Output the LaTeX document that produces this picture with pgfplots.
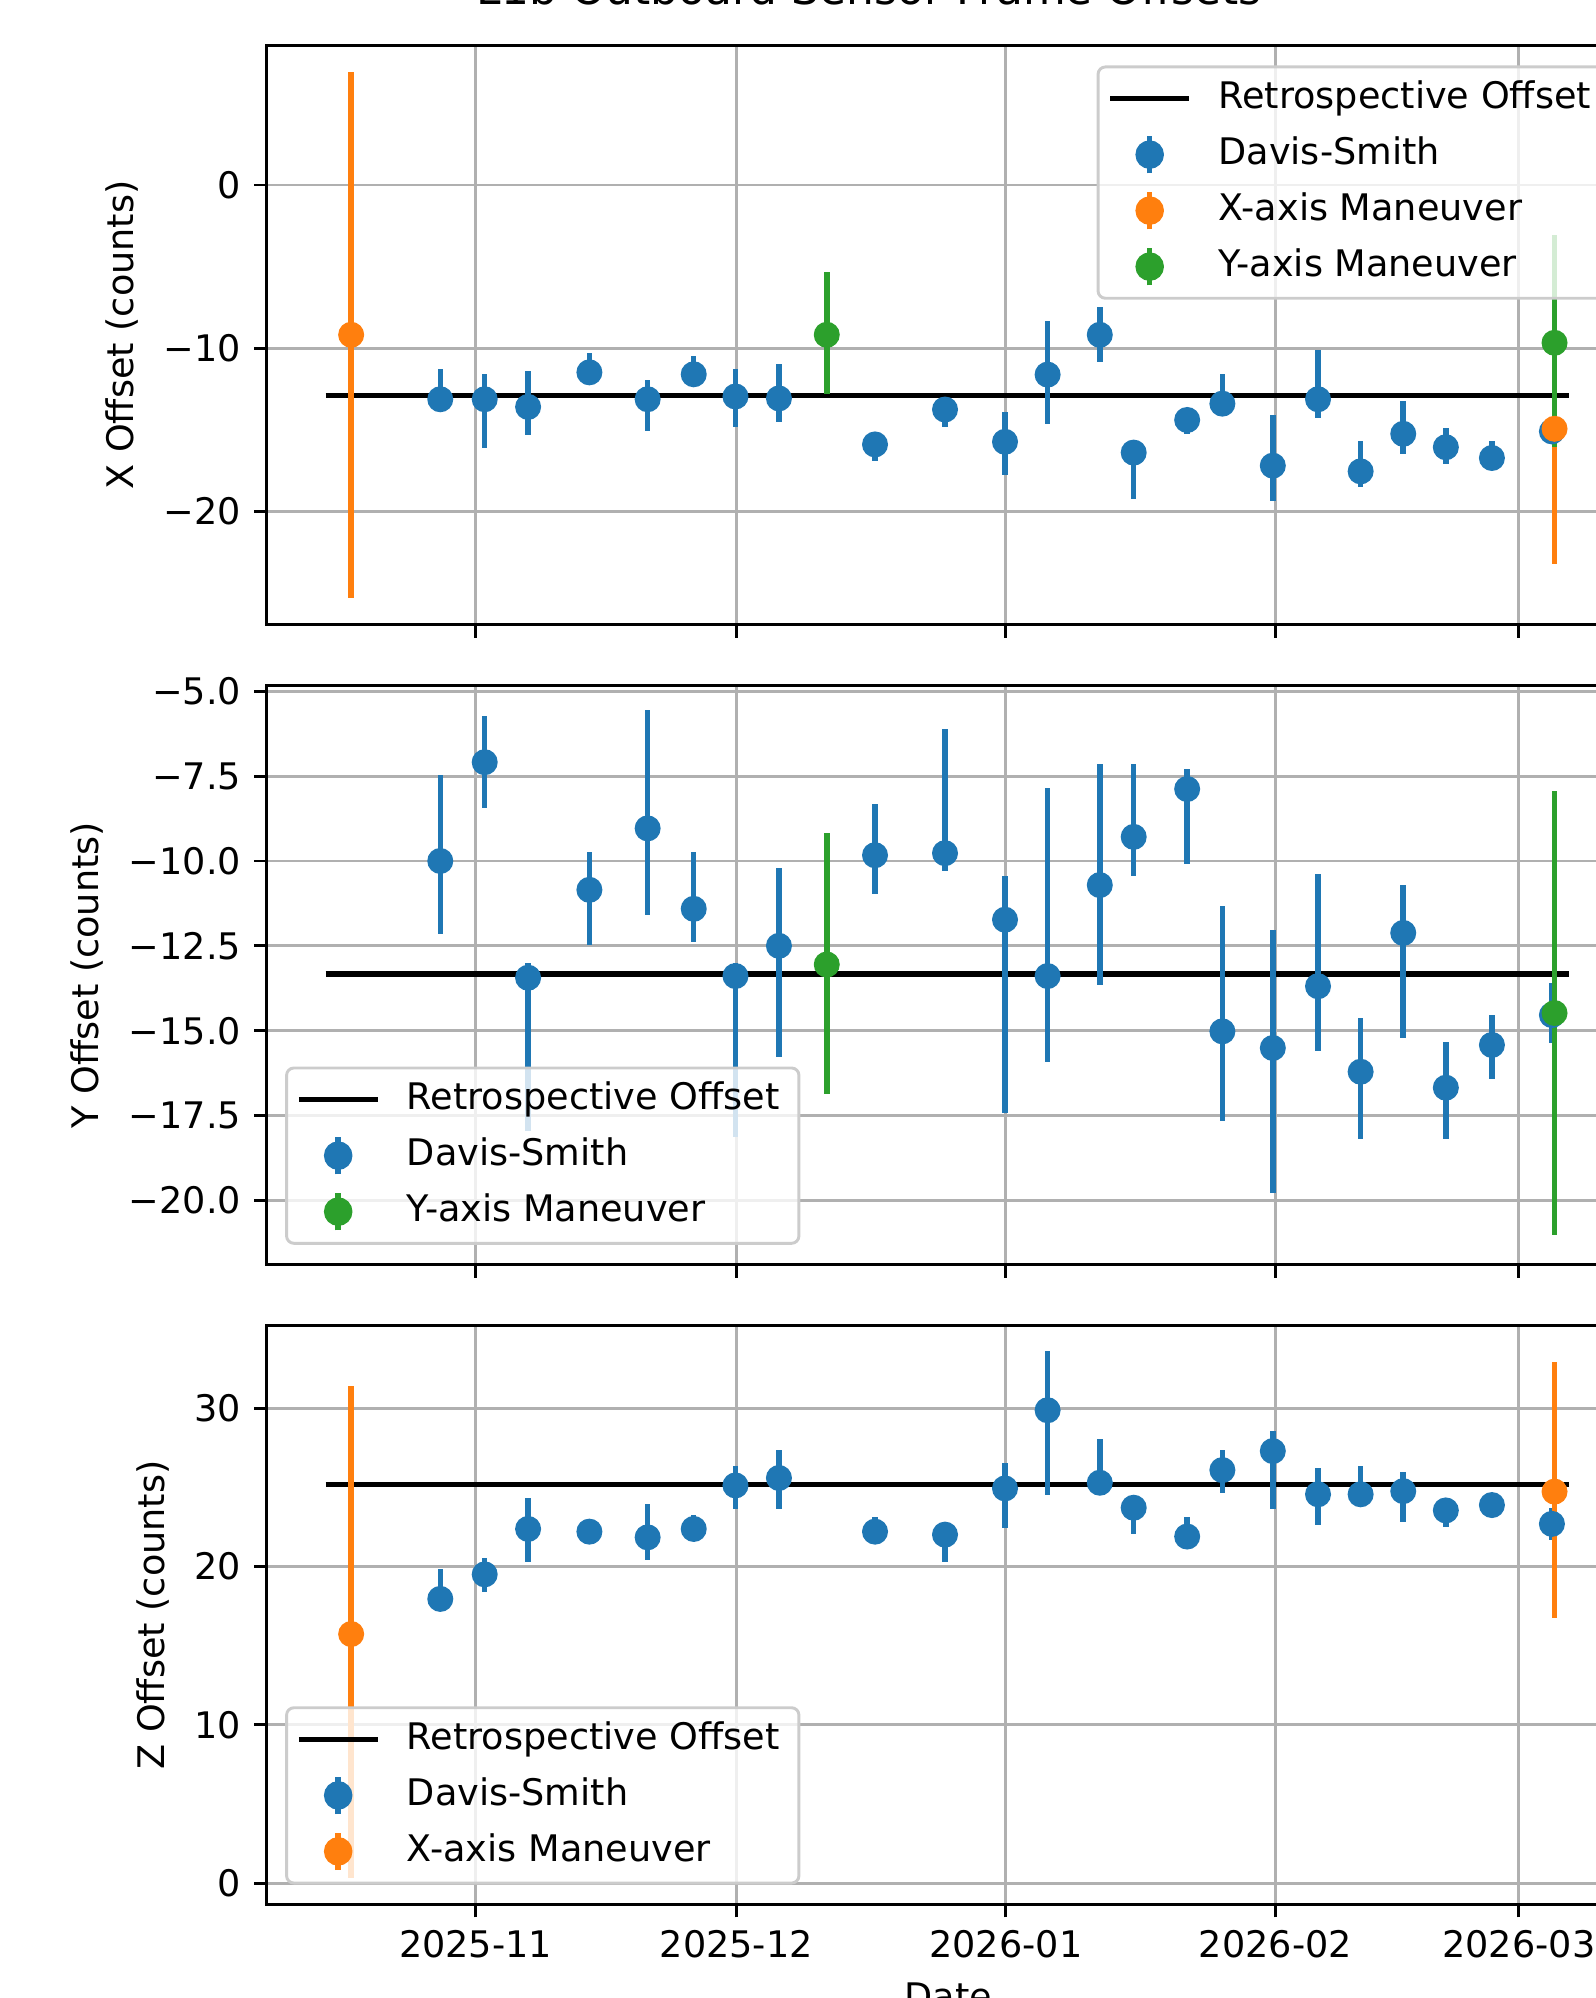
\documentclass[border=0pt]{standalone}
\usepackage{fontspec}
\setmainfont{DejaVu Sans}
\usepackage{pgfplots}
\usepackage{pgfplotstable}
\pgfplotsset{compat=1.18}
\definecolor{tabblue}{HTML}{1F77B4}
\definecolor{taborange}{HTML}{FF7F0E}
\definecolor{tabgreen}{HTML}{2CA02C}
\definecolor{gridgray}{HTML}{B0B0B0}
\definecolor{legedge}{HTML}{CCCCCC}

% day offsets from 2025-11-01
\pgfplotstableread{
d y ep em
-4.05 -13.13 1.88 0.77
1.06 -13.13 1.53 2.97
6.05 -13.60 2.20 1.70
13.1 -11.48 1.18 0.52
19.8 -13.13 1.18 1.97
25.1 -11.60 1.13 0.60
29.9 -12.96 1.66 1.84
34.9 -13.08 2.14 1.42
45.95 -15.90 0.60 1.00
54.0 -13.76 0.56 1.04
60.9 -15.74 1.84 2.06
65.8 -11.62 3.29 3.01
71.8 -9.18 1.68 1.67
75.7 -16.40 0.60 2.85
81.85 -14.40 0.50 0.85
85.9 -13.40 1.80 0.60
91.7 -17.20 3.13 2.16
96.9 -13.13 2.99 1.17
101.8 -17.55 1.85 0.95
106.7 -15.25 2.00 1.22
111.6 -16.07 1.17 1.03
116.9 -16.73 1.03 0.47
123.8 -15.10 0.80 0.80
}\xblue
\pgfplotstableread{
d y ep em
-14.3 -9.18 16.12 16.12
124.1 -14.94 8.26 8.26
}\xorange
\pgfplotstableread{
d y ep em
40.4 -9.18 3.82 3.62
124.1 -9.67 6.59 6.40
}\xgreen

\pgfplotstableread{
d y ep em
-4.05 -10.00 2.54 2.14
1.06 -7.09 1.36 1.36
6.05 -13.44 0.44 4.52
13.1 -10.85 1.11 1.63
19.8 -9.04 3.48 2.56
25.1 -11.41 1.67 0.98
29.9 -13.39 0.39 4.74
34.9 -12.50 2.30 3.28
45.95 -9.83 1.51 1.15
54.0 -9.77 3.67 0.53
60.9 -11.73 1.28 5.70
65.8 -13.39 5.53 2.54
71.8 -10.71 3.57 2.94
75.7 -9.29 2.15 1.14
81.85 -7.88 0.59 2.21
85.9 -15.02 3.70 2.63
91.7 -15.51 3.48 4.28
96.9 -13.69 3.32 1.92
101.8 -16.21 1.58 1.99
106.7 -12.12 1.42 3.09
111.6 -16.68 1.35 1.52
116.9 -15.42 0.88 0.99
123.8 -14.54 0.94 0.82
}\yblue
\pgfplotstableread{
d y ep em
40.4 -13.05 3.86 3.81
124.1 -14.48 6.55 6.55
}\ygreen

\pgfplotstableread{
d y ep em
-4.05 17.96 1.92 0.66
1.06 19.51 1.05 1.09
6.05 22.38 1.95 2.11
13.1 22.21 0.60 0.60
19.8 21.85 2.12 1.41
25.1 22.38 0.86 0.58
29.9 25.13 1.20 1.46
34.9 25.60 1.77 1.93
45.95 22.21 0.90 0.51
54.0 22.02 0.58 1.75
60.9 24.94 1.58 2.48
65.8 29.88 3.75 5.38
71.8 25.30 2.75 0.70
75.7 23.72 0.58 1.63
81.85 21.90 1.21 0.60
85.9 26.10 1.27 1.45
91.7 27.30 1.24 3.63
96.9 24.57 1.63 1.94
101.8 24.57 1.76 0.57
106.7 24.77 1.22 1.95
111.6 23.55 0.55 1.05
116.9 23.89 0.40 0.40
123.8 22.70 1.00 1.00
}\zblue
\pgfplotstableread{
d y ep em
-14.3 15.74 15.65 15.42
124.1 24.74 8.18 8.00
}\zorange

\pgfplotsset{
  mplaxis/.style={
    scale only axis, width=372.5pt, height=158.3pt,
    xmin=-24.0, xmax=132.8,
    tick align=outside, tick pos=left,
    grid=major, major grid style={gridgray, line width=0.8pt},
    axis line style={line width=0.8pt},
    every tick/.style={black, line width=0.8pt},
    major tick length=3.5pt,
    xtick={0,30,61,92,120},
    tick label style={font=\fontsize{10}{12}\selectfont},
    label style={font=\fontsize{10}{12}\selectfont},
    legend cell align=left,
    legend style={draw=legedge, fill=white, fill opacity=0.8,
      text opacity=1, rounded corners=2pt, line width=0.8pt,
      inner xsep=2.2pt, inner ysep=2.8pt, row sep=3.6pt, column sep=6.9pt,
      nodes={inner sep=0pt, text height=8.6pt, text depth=3.1pt,
        font=\fontsize{10}{12}\selectfont}},
  },
  ebars/.style={only marks, mark=none, forget plot,
    error bars/.cd, y dir=both, y explicit, error mark=none,
    error bar style={line width=1.5pt, draw=#1, solid}},
  edots/.style={only marks, mark=*, mark size=3.3pt, color=#1,
    mark options={fill=#1, draw=#1, line width=0.5pt}, forget plot},
  retro/.style={black, line width=1.5pt, forget plot},
  retroleg/.style={legend image code/.code={
    \draw[black, line width=1.5pt, opacity=1, sharp corners] (0pt,0pt) -- (21.5pt,0pt);}},
  ebleg/.style={legend image code/.code={
    \draw[#1, line width=1.5pt, opacity=1, sharp corners] (10.75pt,-5.1pt) -- (10.75pt,5.1pt);
    \fill[#1, opacity=1] (10.75pt,0pt) circle (3.5pt);
    \path (-0.75pt,0pt) (22.25pt,0pt);}},
}

\begin{document}
\begin{tikzpicture}
\useasboundingbox (0,0) rectangle (435.8pt,545.9pt);

\node[anchor=base, font=\fontsize{12}{14}\selectfont] at (237.5pt,544.6pt)
  {L1b Outboard Sensor Frame Offsets};

% ---------------- X panel
\begin{axis}[mplaxis, at={(72.9pt,375.2pt)}, anchor=south west,
  ymin=-26.95, ymax=8.56,
  ytick={-20,-10,0}, yticklabels={−20,−10,0},
  xticklabels={,,,,},
  ylabel={X Offset (counts)},
  legend style={at={(1,1)}, anchor=north east, xshift=-5pt, yshift=-5.5pt}]
\addplot[retro] coordinates {(-17.25,-12.9) (125.8,-12.9)};
\addplot[ebars=tabblue] table[x=d, y=y, y error plus=ep, y error minus=em] {\xblue};
\addplot[ebars=taborange] table[x=d, y=y, y error plus=ep, y error minus=em] {\xorange};
\addplot[ebars=tabgreen] table[x=d, y=y, y error plus=ep, y error minus=em] {\xgreen};
\addplot[edots=tabblue] table[x=d, y=y] {\xblue};
\addplot[edots=taborange] table[x=d, y=y] {\xorange};
\addplot[edots=tabgreen] table[x=d, y=y] {\xgreen};
\addlegendimage{retroleg}\addlegendentry{Retrospective Offset\kern3.1pt}
\addlegendimage{ebleg=tabblue}\addlegendentry{Davis-Smith}
\addlegendimage{ebleg=taborange}\addlegendentry{X-axis Maneuver}
\addlegendimage{ebleg=tabgreen}\addlegendentry{Y-axis Maneuver}
\end{axis}

% ---------------- Y panel
\begin{axis}[mplaxis, at={(72.9pt,200.3pt)}, anchor=south west,
  ymin=-21.9, ymax=-4.83,
  ytick={-20,-17.5,-15,-12.5,-10,-7.5,-5},
  yticklabels={−20.0,−17.5,−15.0,−12.5,−10.0,−7.5,−5.0},
  xticklabels={,,,,},
  ylabel={Y Offset (counts)},
  legend style={at={(0,0)}, anchor=south west, xshift=5pt, yshift=5.5pt}]
\addplot[retro] coordinates {(-17.25,-13.33) (125.8,-13.33)};
\addplot[ebars=tabblue] table[x=d, y=y, y error plus=ep, y error minus=em] {\yblue};
\addplot[ebars=tabgreen] table[x=d, y=y, y error plus=ep, y error minus=em] {\ygreen};
\addplot[edots=tabblue] table[x=d, y=y] {\yblue};
\addplot[edots=tabgreen] table[x=d, y=y] {\ygreen};
\addlegendimage{retroleg}\addlegendentry{Retrospective Offset\kern3.1pt}
\addlegendimage{ebleg=tabblue}\addlegendentry{Davis-Smith}
\addlegendimage{ebleg=tabgreen}\addlegendentry{Y-axis Maneuver}
\end{axis}

% ---------------- Z panel
\begin{axis}[mplaxis, at={(72.9pt,25.5pt)}, anchor=south west,
  ymin=-1.36, ymax=35.25,
  ytick={0,10,20,30}, yticklabels={0,10,20,30},
  xticklabels={2025-11,2025-12,2026-01,2026-02,2026-03},
  xlabel={Date},
  ylabel={Z Offset (counts)},
  legend style={at={(0,0)}, anchor=south west, xshift=5pt, yshift=5.5pt}]
\addplot[retro] coordinates {(-17.25,25.18) (125.8,25.18)};
\addplot[ebars=tabblue] table[x=d, y=y, y error plus=ep, y error minus=em] {\zblue};
\addplot[ebars=taborange] table[x=d, y=y, y error plus=ep, y error minus=em] {\zorange};
\addplot[edots=tabblue] table[x=d, y=y] {\zblue};
\addplot[edots=taborange] table[x=d, y=y] {\zorange};
\addlegendimage{retroleg}\addlegendentry{Retrospective Offset\kern3.1pt}
\addlegendimage{ebleg=tabblue}\addlegendentry{Davis-Smith}
\addlegendimage{ebleg=taborange}\addlegendentry{X-axis Maneuver}
\end{axis}
\end{tikzpicture}
\end{document}
